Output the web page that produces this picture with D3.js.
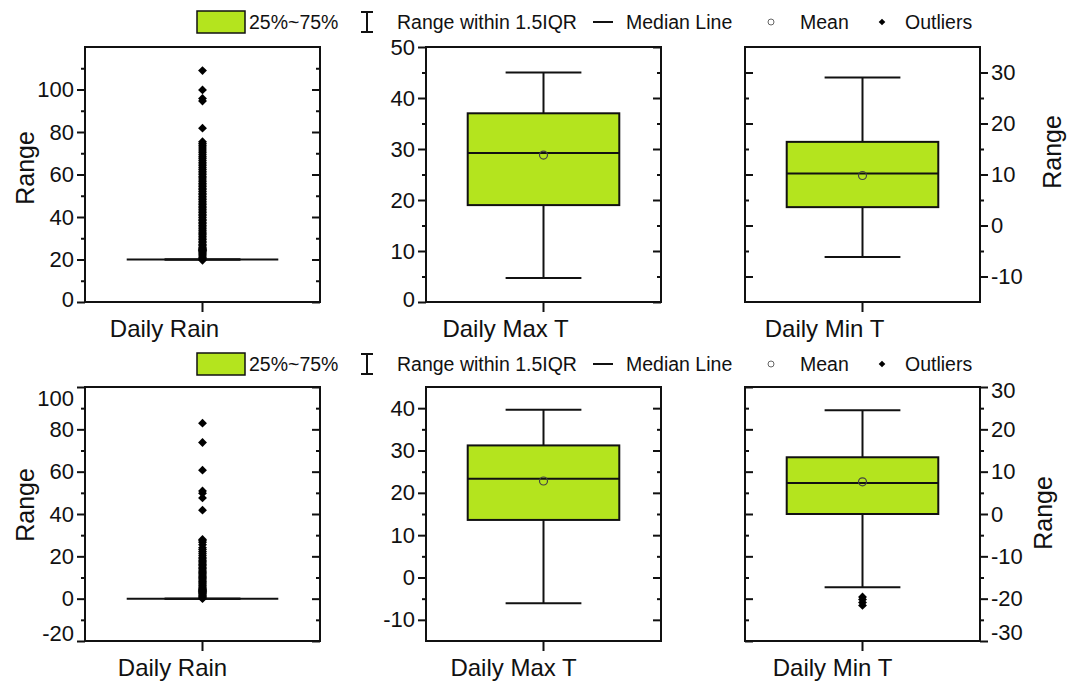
<!DOCTYPE html>
<html>
<head>
<meta charset="utf-8">
<script src="https://cdn.jsdelivr.net/npm/d3@7"></script>
<style>
  body { margin: 0; background: #fff; }
  svg { display: block; font-family: Arial, "Liberation Sans", sans-serif; }
  .domain { display: none; }
  .tick line { stroke: #111; stroke-width: 2; }
</style>
</head>
<body>
<div id="chart"></div>
<script>
(function() {
  'use strict';

  // ---- data ----
  var categories = ['Daily Rain', 'Daily Max T', 'Daily Min T'];

  // top row
  var topWhiskLow = [20, 4.7, -6.2];
  var topQ1 = [20, 19.0, 3.6];
  var topMedian = [20, 29.2, 10.2];
  var topQ3 = [20, 37.0, 16.4];
  var topWhiskHigh = [20, 45.0, 29.0];
  var topMean = [24.5, 28.8, 9.8];
  var topRainOutliers = [19.6, 20.3, 20.9, 21.6, 22.2, 22.9, 23.5, 24.3, 25.0, 25.8, 26.5, 27.1,
    27.9, 28.6, 29.4, 30.1, 30.9, 31.6, 32.4, 33.0, 33.8, 34.5, 35.3, 36.0, 36.8, 37.5, 38.3,
    39.0, 39.8, 40.6, 41.3, 42.1, 42.8, 43.6, 44.4, 45.1, 45.9, 46.6, 47.4, 48.2, 48.9, 49.7,
    50.5, 51.2, 52.0, 52.8, 53.5, 54.3, 55.1, 55.8, 56.6, 57.4, 58.3, 59.0, 59.9, 60.7, 61.5,
    62.4, 63.2, 64.1, 65.0, 65.8, 66.7, 67.6, 68.4, 69.3, 70.2, 71.1, 72.0, 72.9, 73.8, 74.6,
    75.4, 81.8, 94.6, 95.8, 99.8, 108.9];
  var topMaxOutliers = [];
  var topMinOutliers = [];
  var topDomains = [[0, 120], [0, 50], [-15, 35]];
  var topTicks = [[0, 20, 40, 60, 80, 100], [0, 10, 20, 30, 40, 50], [-10, 0, 10, 20, 30]];
  var topMinorTicks = [[10, 30, 50, 70, 90, 110], [5, 15, 25, 35, 45], [-5, 5, 15, 25]];

  // bottom row
  var botWhiskLow = [0, -6.1, -17.3];
  var botQ1 = [0, 13.6, 0];
  var botMedian = [0, 23.3, 7.3];
  var botQ3 = [0, 31.2, 13.4];
  var botWhiskHigh = [0, 39.6, 24.5];
  var botMean = [3.5, 22.8, 7.6];
  var botRainOutliers = [0, 0.5, 1.0, 1.5, 2.1, 2.6, 3.2, 3.7, 4.3, 4.8, 5.4, 6.0, 6.5, 7.1, 7.7,
    8.2, 8.8, 9.4, 10.0, 10.6, 11.2, 11.8, 12.4, 13.0, 13.6, 14.3, 14.9, 15.5, 16.2, 16.8, 17.5,
    18.1, 18.8, 19.6, 20.5, 21.4, 22.3, 23.2, 24.1, 25.5, 26.6, 27.4, 28.0,
    41.8, 47.6, 49.8, 50.9, 60.7, 73.8, 82.9];
  var botMaxOutliers = [];
  var botMinOutliers = [-19.6, -20.2, -20.9, -21.6];
  var botDomains = [[-20, 100], [-15, 45], [-30, 30]];
  var botTicks = [[-20, 0, 20, 40, 60, 80, 100], [-10, 0, 10, 20, 30, 40], [-30, -20, -10, 0, 10, 20, 30]];
  var botMinorTicks = [[-10, 10, 30, 50, 70, 90], [-5, 5, 15, 25, 35], [-25, -15, -5, 5, 15, 25]];

  var legendLabels = ['25%~75%', 'Range within 1.5IQR', 'Median Line', 'Mean', 'Outliers'];
  var yTitle = 'Range';

  // ---- layout ----
  var boxColor = '#b4e41e';
  var cols = [
    { left: 85, right: 320, side: 'left' },
    { left: 426, right: 661, side: 'left' },
    { left: 745, right: 980, side: 'right' }
  ];
  var rows = [
    { top: 47, bottom: 302, legendY: 22, labelDx: -38, labelY: 337, titleLeft: [25, 168], titleRight: [1052, 152],
      stats: [topWhiskLow, topQ1, topMedian, topQ3, topWhiskHigh, topMean],
      outliers: [topRainOutliers, topMaxOutliers, topMinOutliers],
      domains: topDomains, ticks: topTicks, minor: topMinorTicks,
      edgeShift: [{ min: -3, max: 0 }, { min: -3, max: 0 }, { min: 0, max: 0 }] },
    { top: 387, bottom: 641, legendY: 364, labelDx: -30, labelY: 676, titleLeft: [25, 505], titleRight: [1043, 513],
      stats: [botWhiskLow, botQ1, botMedian, botQ3, botWhiskHigh, botMean],
      outliers: [botRainOutliers, botMaxOutliers, botMinOutliers],
      domains: botDomains, ticks: botTicks, minor: botMinorTicks,
      edgeShift: [{ min: -8, max: 11 }, { min: 0, max: 0 }, { min: -9, max: 3 }] }
  ];

  var svg = d3.select('#chart').append('svg')
    .attr('width', 1070)
    .attr('height', 681);

  svg.append('rect').attr('width', 1070).attr('height', 681).attr('fill', '#fff');

  var diamond = d3.symbol().type(d3.symbolDiamond2).size(50);
  var plainNum = function(d) { return String(d); };

  rows.forEach(function(row) {
    drawLegend(row.legendY);

    cols.forEach(function(col, i) {
      var g = svg.append('g');
      var dom = row.domains[i];
      var y = d3.scaleLinear().domain(dom).range([row.bottom, row.top]);
      var x = d3.scaleBand().domain([categories[i]]).range([col.left, col.right]).padding(0);
      var cx = x(categories[i]) + x.bandwidth() / 2;
      var boxW = (col.right - col.left) * 0.645;
      var capW = boxW / 2;

      // axis side with labels, opposite side gets inward ticks only
      var main, mainX, mirrorX;
      if (col.side === 'left') {
        main = d3.axisLeft(y); mainX = col.left; mirrorX = col.right;
      } else {
        main = d3.axisRight(y); mainX = col.right; mirrorX = col.left;
      }
      var shift = row.edgeShift[i];
      var mainG = g.append('g')
        .attr('transform', 'translate(' + mainX + ',0)')
        .call(main.tickValues(row.ticks[i]).tickSize(8).tickSizeOuter(0).tickPadding(3).tickFormat(plainNum));
      mainG.selectAll('text')
        .attr('font-size', 22)
        .attr('fill', '#111')
        .attr('font-family', 'Arial, "Liberation Sans", sans-serif')
        .attr('transform', function(d) {
          if (d === dom[1]) return 'translate(0,' + shift.max + ')';
          if (d === dom[0]) return 'translate(0,' + shift.min + ')';
          return null;
        });
      g.append('g')
        .attr('transform', 'translate(' + mainX + ',0)')
        .call(d3.axisLeft(y).tickValues(row.minor[i]).tickSize(col.side === 'left' ? 4 : -4).tickSizeOuter(0).tickFormat(''));

      var inward = col.side === 'left' ? 8 : -8;
      g.append('g')
        .attr('transform', 'translate(' + mirrorX + ',0)')
        .call(d3.axisLeft(y).tickValues(row.ticks[i]).tickSize(inward).tickSizeOuter(0).tickFormat(''));
      g.append('g')
        .attr('transform', 'translate(' + mirrorX + ',0)')
        .call(d3.axisLeft(y).tickValues(row.minor[i]).tickSize(inward / 2).tickSizeOuter(0).tickFormat(''));

      // bottom category axis
      var xg = g.append('g')
        .attr('transform', 'translate(0,' + row.bottom + ')')
        .call(d3.axisBottom(x).tickSize(10).tickSizeOuter(0));
      xg.selectAll('text')
        .attr('font-size', 24)
        .attr('fill', '#111')
        .attr('font-family', 'Arial, "Liberation Sans", sans-serif')
        .attr('dy', null)
        .attr('y', row.labelY - row.bottom)
        .attr('dx', row.labelDx);

      // box
      var s = row.stats;
      var wl = s[0][i], q1 = s[1][i], med = s[2][i], q3 = s[3][i], wh = s[4][i], mean = s[5][i];
      g.append('line')
        .attr('x1', cx).attr('x2', cx).attr('y1', y(wh)).attr('y2', y(q3))
        .attr('stroke', '#111').attr('stroke-width', 2);
      g.append('line')
        .attr('x1', cx).attr('x2', cx).attr('y1', y(q1)).attr('y2', y(wl))
        .attr('stroke', '#111').attr('stroke-width', 2);
      [wl, wh].forEach(function(v) {
        g.append('line')
          .attr('x1', cx - capW / 2).attr('x2', cx + capW / 2)
          .attr('y1', y(v)).attr('y2', y(v))
          .attr('stroke', '#111').attr('stroke-width', 2);
      });
      g.append('rect')
        .attr('x', cx - boxW / 2).attr('width', boxW)
        .attr('y', y(q3)).attr('height', Math.max(0, y(q1) - y(q3)))
        .attr('fill', boxColor).attr('stroke', '#111').attr('stroke-width', 2);
      g.append('line')
        .attr('x1', cx - boxW / 2).attr('x2', cx + boxW / 2)
        .attr('y1', y(med)).attr('y2', y(med))
        .attr('stroke', '#111').attr('stroke-width', 2);
      g.append('circle')
        .attr('cx', cx).attr('cy', y(mean)).attr('r', 4)
        .attr('fill', 'none').attr('stroke', '#444').attr('stroke-width', 1.2);

      g.selectAll('path.outlier')
        .data(row.outliers[i])
        .enter().append('path')
        .attr('class', 'outlier')
        .attr('d', diamond)
        .attr('fill', '#000')
        .attr('transform', function(d) { return 'translate(' + cx + ',' + y(d) + ')'; });

      // frame
      g.append('rect')
        .attr('x', col.left).attr('y', row.top)
        .attr('width', col.right - col.left).attr('height', row.bottom - row.top)
        .attr('fill', 'none').attr('stroke', '#111').attr('stroke-width', 2);
    });

    // y titles
    [row.titleLeft, row.titleRight].forEach(function(p) {
      svg.append('text')
        .attr('transform', 'translate(' + p[0] + ',' + p[1] + ') rotate(-90)')
        .attr('text-anchor', 'middle')
        .attr('dy', '0.35em')
        .attr('font-size', 25)
        .attr('fill', '#111')
        .text(yTitle);
    });
  });

  function drawLegend(cy) {
    var lg = svg.append('g').attr('font-size', 19.5).attr('fill', '#111');
    lg.append('rect')
      .attr('x', 197).attr('y', cy - 11).attr('width', 48).attr('height', 22)
      .attr('fill', boxColor).attr('stroke', '#111').attr('stroke-width', 1.5);
    lg.append('text').attr('x', 249).attr('y', cy).attr('dy', '0.35em').text(legendLabels[0]);

    // whisker symbol
    var ix = 367;
    lg.append('line').attr('x1', ix).attr('x2', ix).attr('y1', cy - 10).attr('y2', cy + 10)
      .attr('stroke', '#111').attr('stroke-width', 2);
    [cy - 10, cy + 10].forEach(function(yy) {
      lg.append('line').attr('x1', ix - 6).attr('x2', ix + 6).attr('y1', yy).attr('y2', yy)
        .attr('stroke', '#111').attr('stroke-width', 2);
    });
    lg.append('text').attr('x', 397).attr('y', cy).attr('dy', '0.35em').text(legendLabels[1]);

    lg.append('line').attr('x1', 593).attr('x2', 613).attr('y1', cy).attr('y2', cy)
      .attr('stroke', '#111').attr('stroke-width', 2);
    lg.append('text').attr('x', 626).attr('y', cy).attr('dy', '0.35em').text(legendLabels[2]);

    lg.append('circle').attr('cx', 771).attr('cy', cy).attr('r', 3)
      .attr('fill', 'none').attr('stroke', '#666').attr('stroke-width', 1);
    lg.append('text').attr('x', 800).attr('y', cy).attr('dy', '0.35em').text(legendLabels[3]);

    lg.append('path')
      .attr('d', d3.symbol().type(d3.symbolDiamond2).size(28))
      .attr('transform', 'translate(882,' + cy + ')')
      .attr('fill', '#000');
    lg.append('text').attr('x', 905).attr('y', cy).attr('dy', '0.35em').text(legendLabels[4]);
  }
})();
</script>
</body>
</html>
